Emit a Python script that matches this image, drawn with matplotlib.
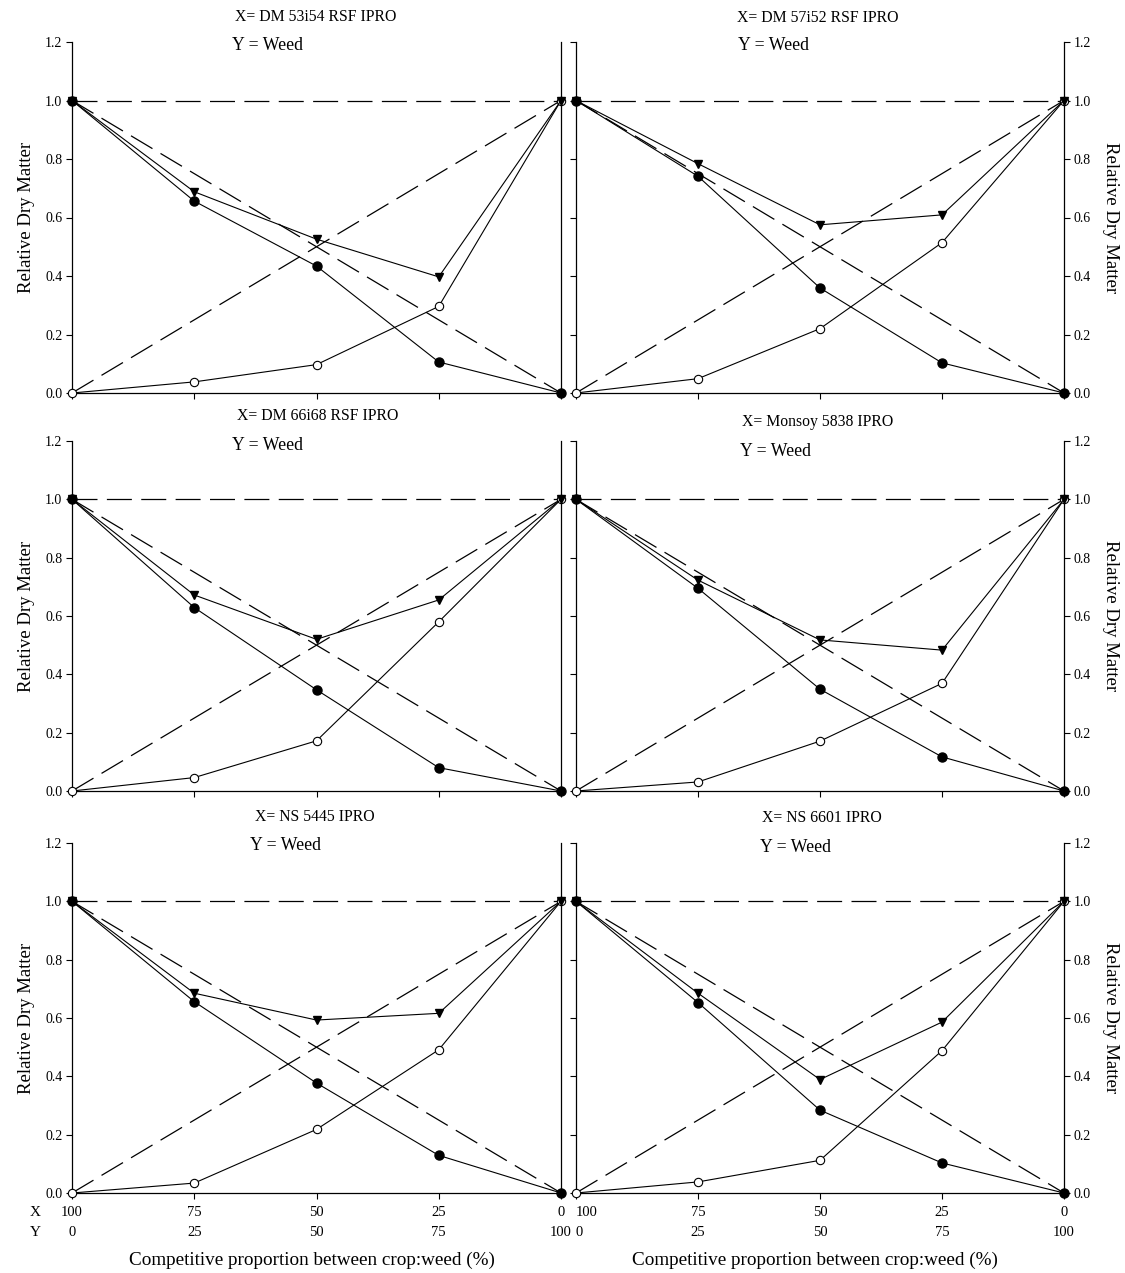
import matplotlib
matplotlib.use("Agg")
import matplotlib.pyplot as plt
import matplotlib.transforms as mtransforms

plt.rcParams['font.family'] = ['Liberation Serif', 'DejaVu Serif']

weed_prop = [0, 25, 50, 75, 100]          # Y (weed) proportion
crop_prop_labels = ['100', '75', '50', '25', '0']
weed_prop_labels = ['0', '25', '50', '75', '100']

titles = ["X= DM 53i54 RSF IPRO", "X= DM 57i52 RSF IPRO",
          "X= DM 66i68 RSF IPRO", "X= Monsoy 5838 IPRO",
          "X= NS 5445 IPRO", "X= NS 6601 IPRO"]

crop_rdm = [
    [1.0, 0.656, 0.434, 0.106, 0.0],
    [1.0, 0.741, 0.359, 0.103, 0.0],
    [1.0, 0.629, 0.347, 0.080, 0.0],
    [1.0, 0.695, 0.349, 0.117, 0.0],
    [1.0, 0.656, 0.377, 0.129, 0.0],
    [1.0, 0.653, 0.284, 0.103, 0.0],
]
weed_rdm = [
    [0.0, 0.038, 0.097, 0.296, 1.0],
    [0.0, 0.049, 0.220, 0.514, 1.0],
    [0.0, 0.046, 0.172, 0.580, 1.0],
    [0.0, 0.031, 0.171, 0.369, 1.0],
    [0.0, 0.034, 0.218, 0.491, 1.0],
    [0.0, 0.038, 0.112, 0.488, 1.0],
]
total_rdm = [
    [1.0, 0.688, 0.526, 0.397, 1.0],
    [1.0, 0.784, 0.575, 0.609, 1.0],
    [1.0, 0.672, 0.520, 0.655, 1.0],
    [1.0, 0.723, 0.518, 0.483, 1.0],
    [1.0, 0.685, 0.593, 0.616, 1.0],
    [1.0, 0.685, 0.389, 0.586, 1.0],
]
expected_crop = [1.0, 0.0]
expected_weed = [0.0, 1.0]
expected_total = [1.0, 1.0]
expected_x = [0, 100]

W, H = 1125, 1273
fig = plt.figure(figsize=(W / 100, H / 100), dpi=100)

cols = [(72, 561), (576, 1064)]
rows = [(42, 393), (441, 791), (843, 1193)]
title_pos = [(316, 17), (818, 18), (318, 416), (818, 422), (315, 817), (822, 818)]
yweed_pos = [(268, 46), (773, 46), (267, 446), (776, 451), (286, 846), (795, 848)]

dash = (0, (20, 7.5))
for i in range(6):
    r, c = divmod(i, 2)
    x0, x1 = cols[c]
    ytop, ybot = rows[r]
    ax = fig.add_axes([x0 / W, 1 - ybot / H, (x1 - x0) / W, (ybot - ytop) / H])
    ax.set_xlim(0, 100)
    ax.set_ylim(0, 1.2)
    ax.spines['top'].set_visible(False)
    for s in ax.spines.values():
        s.set_linewidth(0.9)

    ax.plot(expected_x, expected_total, color='black', lw=0.9, ls=dash)
    ax.plot(expected_x, expected_crop, color='black', lw=0.9, ls=dash)
    ax.plot(expected_x, expected_weed, color='black', lw=0.9, ls=dash)

    ax.plot(weed_prop, weed_rdm[i], color='black', lw=0.8, marker='o', ms=6,
            mfc='white', mec='black', mew=0.8, clip_on=False, zorder=5)
    ax.plot(weed_prop, total_rdm[i], color='black', lw=0.8, marker='v', ms=6,
            mfc='black', mec='black', clip_on=False, zorder=6)
    ax.plot(weed_prop, crop_rdm[i], color='black', lw=0.8, marker='o', ms=6.5,
            mfc='black', mec='black', clip_on=False, zorder=7)

    ax.set_xticks(weed_prop)
    ax.set_xticklabels([])
    ax.tick_params(axis='x', direction='out', length=4, width=0.8)
    yt = [0.0, 0.2, 0.4, 0.6, 0.8, 1.0, 1.2]
    ax.set_yticks(yt)
    ax.set_yticklabels([f"{v:.1f}" for v in yt])
    if c == 0:
        ax.tick_params(axis='y', direction='out', length=4, width=0.8,
                       left=True, right=False, labelleft=True, labelright=False,
                       labelsize=10, pad=3)
        ax.set_ylabel("Relative Dry Matter", fontsize=13.5, labelpad=7)
    else:
        ax.tick_params(axis='y', direction='out', length=4, width=0.8,
                       left=True, right=True, labelleft=False, labelright=True,
                       labelsize=10, pad=3)
        ax.yaxis.set_label_position('right')
        ax.set_ylabel("Relative Dry Matter", fontsize=13.5, rotation=270,
                      labelpad=20)

    tx, ty = title_pos[i]
    fig.text(tx / W, 1 - ty / H, titles[i], ha='center', va='center', fontsize=11.3)
    wx, wy = yweed_pos[i]
    fig.text(wx / W, 1 - wy / H, "Y = Weed", ha='center', va='center', fontsize=12.8)

    if r == 2:
        trans = mtransforms.blended_transform_factory(ax.transData, fig.transFigure)
        for k, (xv, lx, ly) in enumerate(zip(weed_prop, crop_prop_labels, weed_prop_labels)):
            ha = 'center'
            if c == 1 and k == 0:
                ha = 'left'
            ax.text(xv, 1 - 1213 / H, lx, transform=trans, ha=ha, va='center',
                    fontsize=10.5)
            ax.text(xv, 1 - 1233 / H, ly, transform=trans, ha=ha, va='center',
                    fontsize=10.5)
        if c == 0:
            fig.text(35 / W, 1 - 1213 / H, "X", ha='center', va='center', fontsize=11)
            fig.text(35 / W, 1 - 1233 / H, "Y", ha='center', va='center', fontsize=11)
        fig.text((x0 + x1) / 2 / W - 5 / W, 1 - 1260 / H,
                 "Competitive proportion between crop:weed (%)",
                 ha='center', va='center', fontsize=13.8)

fig.savefig("out.png", dpi=100, facecolor='white')
